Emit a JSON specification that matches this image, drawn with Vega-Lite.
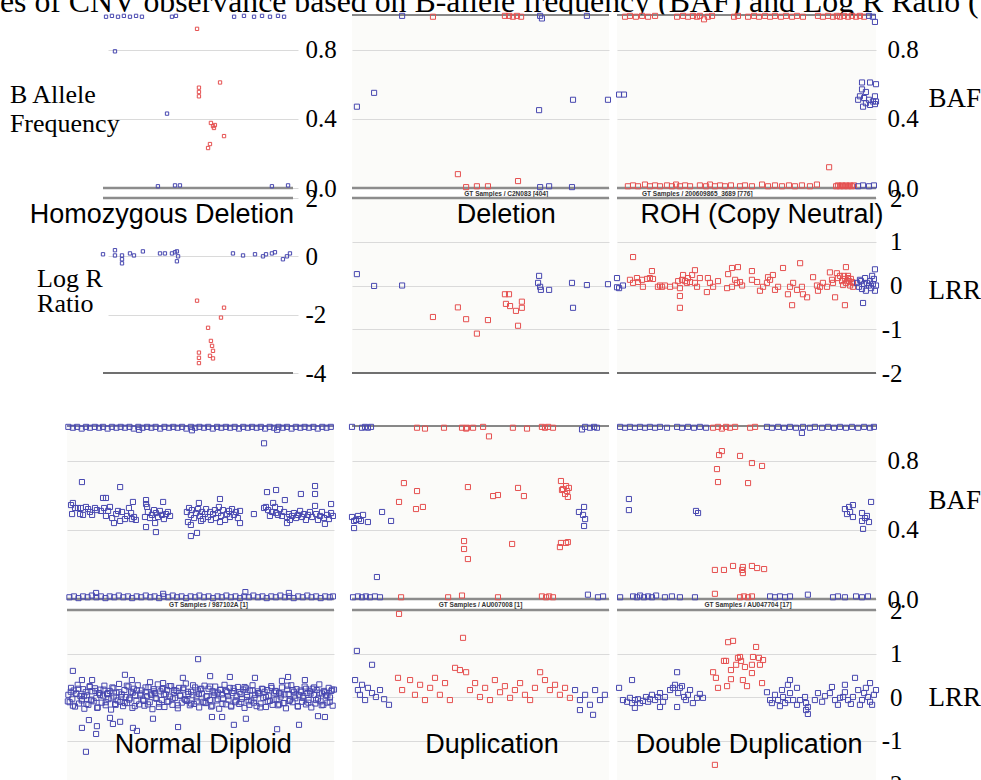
{
"$schema":"https://vega.github.io/schema/vega-lite/v6.json",
"padding":{"top":-13,"left":0,"right":0,"bottom":0},
"background":"white",
"config":{"view":{"stroke":null},"font":"Liberation Sans","axis":{"domain":false,"ticks":false,"gridColor":"#dadada","gridWidth":1,"labelFont":"Liberation Serif","labelFontSize":25,"labelColor":"#000","labelFlush":false,"labelOverlap":false,"labelBaseline":"middle","titleFont":"Liberation Serif","titleFontSize":27,"titleFontWeight":"normal","titleColor":"#000"}},
"datasets":{
"A_baf":[{"x":1.6,"y":0.99,"c":"b"},{"x":4.7,"y":0.995,"c":"b"},{"x":7.9,"y":0.99,"c":"b"},{"x":11,"y":0.995,"c":"b"},{"x":14.2,"y":0.99,"c":"b"},{"x":17.4,"y":0.995,"c":"b"},{"x":20.5,"y":0.99,"c":"b"},{"x":36.3,"y":0.99,"c":"b"},{"x":38.4,"y":0.995,"c":"b"},{"x":69,"y":0.99,"c":"b"},{"x":74.2,"y":0.995,"c":"b"},{"x":79.5,"y":0.99,"c":"b"},{"x":83.7,"y":0.995,"c":"b"},{"x":87.9,"y":0.99,"c":"b"},{"x":92.1,"y":0.995,"c":"b"},{"x":95.3,"y":0.99,"c":"b"},{"x":6.3,"y":0.79,"c":"b"},{"x":33.7,"y":0.43,"c":"b"},{"x":28.9,"y":0.01,"c":"b"},{"x":37.9,"y":0.015,"c":"b"},{"x":40.5,"y":0.015,"c":"b"},{"x":88.9,"y":0.01,"c":"b"},{"x":97.4,"y":0.015,"c":"b"},{"x":49.5,"y":0.92,"c":"r"},{"x":61.6,"y":0.61,"c":"r"},{"x":50.5,"y":0.58,"c":"r"},{"x":50.5,"y":0.555,"c":"r"},{"x":50.5,"y":0.53,"c":"r"},{"x":56.8,"y":0.376,"c":"r"},{"x":57.9,"y":0.358,"c":"r"},{"x":58.4,"y":0.347,"c":"r"},{"x":58.9,"y":0.364,"c":"r"},{"x":63.7,"y":0.3,"c":"r"},{"x":56.3,"y":0.254,"c":"r"},{"x":55.3,"y":0.231,"c":"r"}],
"A_lrr":[{"x":0,"y":0.07,"c":"b"},{"x":6.3,"y":0.21,"c":"b"},{"x":6.3,"y":0.03,"c":"b"},{"x":10,"y":0.03,"c":"b"},{"x":10,"y":-0.1,"c":"b"},{"x":10,"y":-0.24,"c":"b"},{"x":14.2,"y":0.1,"c":"b"},{"x":16.3,"y":0.03,"c":"b"},{"x":21,"y":0.17,"c":"b"},{"x":30,"y":0.1,"c":"b"},{"x":32.6,"y":0.1,"c":"b"},{"x":36.3,"y":0.1,"c":"b"},{"x":37.9,"y":0.14,"c":"b"},{"x":38.9,"y":0.17,"c":"b"},{"x":39.5,"y":0.0,"c":"b"},{"x":38.9,"y":-0.17,"c":"b"},{"x":68.4,"y":0.1,"c":"b"},{"x":73.7,"y":0.03,"c":"b"},{"x":80,"y":0.07,"c":"b"},{"x":84.2,"y":0.0,"c":"b"},{"x":85.8,"y":0.07,"c":"b"},{"x":88.9,"y":0.1,"c":"b"},{"x":90.5,"y":0.14,"c":"b"},{"x":94.7,"y":-0.1,"c":"b"},{"x":96.8,"y":0.0,"c":"b"},{"x":98.4,"y":0.1,"c":"b"},{"x":49.5,"y":-1.52,"c":"r"},{"x":63.7,"y":-1.76,"c":"r"},{"x":62.1,"y":-2.1,"c":"r"},{"x":55.3,"y":-2.45,"c":"r"},{"x":56.8,"y":-2.9,"c":"r"},{"x":57.4,"y":-3.07,"c":"r"},{"x":57.9,"y":-3.24,"c":"r"},{"x":56.3,"y":-3.41,"c":"r"},{"x":57.9,"y":-3.5,"c":"r"},{"x":50.5,"y":-3.3,"c":"r"},{"x":50.5,"y":-3.48,"c":"r"},{"x":50.5,"y":-3.66,"c":"r"}],
"B_baf":[{"x":19.5,"y":0.995,"c":"b"},{"x":73.2,"y":0.995,"c":"b"},{"x":73.9,"y":0.98,"c":"b"},{"x":91.4,"y":0.995,"c":"b"},{"x":1.9,"y":0.47,"c":"b"},{"x":8.6,"y":0.55,"c":"b"},{"x":72.8,"y":0.45,"c":"b"},{"x":86,"y":0.51,"c":"b"},{"x":99.6,"y":0.51,"c":"b"},{"x":73.2,"y":0.005,"c":"b"},{"x":76.7,"y":0.01,"c":"b"},{"x":85.6,"y":0.005,"c":"b"},{"x":31.5,"y":0.99,"c":"r"},{"x":59.5,"y":0.995,"c":"r"},{"x":61.1,"y":0.995,"c":"r"},{"x":62.6,"y":0.99,"c":"r"},{"x":64.2,"y":0.995,"c":"r"},{"x":65.8,"y":0.99,"c":"r"},{"x":41.2,"y":0.08,"c":"r"},{"x":44.4,"y":0.005,"c":"r"},{"x":48.6,"y":0.01,"c":"r"},{"x":52.9,"y":0.01,"c":"r"},{"x":64.6,"y":0.04,"c":"r"}],
"B_lrr":[{"x":1.9,"y":0.26,"c":"b"},{"x":8.6,"y":-0.01,"c":"b"},{"x":19.5,"y":0.0,"c":"b"},{"x":72.8,"y":0.22,"c":"b"},{"x":72.4,"y":0.06,"c":"b"},{"x":73.2,"y":-0.03,"c":"b"},{"x":73.5,"y":-0.1,"c":"b"},{"x":76.7,"y":-0.1,"c":"b"},{"x":85.6,"y":0.06,"c":"b"},{"x":86,"y":-0.51,"c":"b"},{"x":91.4,"y":0.01,"c":"b"},{"x":99.6,"y":0.03,"c":"b"},{"x":31.5,"y":-0.72,"c":"r"},{"x":41.2,"y":-0.5,"c":"r"},{"x":44.4,"y":-0.77,"c":"r"},{"x":48.6,"y":-1.1,"c":"r"},{"x":52.9,"y":-0.79,"c":"r"},{"x":59.5,"y":-0.2,"c":"r"},{"x":61.1,"y":-0.2,"c":"r"},{"x":59.9,"y":-0.42,"c":"r"},{"x":61.5,"y":-0.47,"c":"r"},{"x":63.8,"y":-0.58,"c":"r"},{"x":66.1,"y":-0.37,"c":"r"},{"x":66.1,"y":-0.51,"c":"r"},{"x":64.6,"y":-0.92,"c":"r"}],
"C_baf":[{"x":3.1,"y":0.99,"c":"r"},{"x":5,"y":0.995,"c":"r"},{"x":7.3,"y":0.99,"c":"r"},{"x":9.7,"y":0.995,"c":"r"},{"x":12,"y":0.99,"c":"r"},{"x":14.7,"y":0.995,"c":"r"},{"x":23.2,"y":0.99,"c":"r"},{"x":25.5,"y":0.995,"c":"r"},{"x":27.4,"y":0.99,"c":"r"},{"x":29.3,"y":0.995,"c":"r"},{"x":30.9,"y":0.99,"c":"r"},{"x":32,"y":0.995,"c":"r"},{"x":33.6,"y":0.975,"c":"r"},{"x":35.1,"y":0.99,"c":"r"},{"x":36.7,"y":0.995,"c":"r"},{"x":45.2,"y":0.99,"c":"r"},{"x":46.7,"y":0.995,"c":"r"},{"x":50.6,"y":0.99,"c":"r"},{"x":52.9,"y":0.995,"c":"r"},{"x":54.8,"y":0.99,"c":"r"},{"x":57.1,"y":0.995,"c":"r"},{"x":59.1,"y":0.99,"c":"r"},{"x":61,"y":0.995,"c":"r"},{"x":63.3,"y":0.99,"c":"r"},{"x":65.3,"y":0.995,"c":"r"},{"x":67.6,"y":0.99,"c":"r"},{"x":69.5,"y":0.995,"c":"r"},{"x":71.8,"y":0.99,"c":"r"},{"x":77.6,"y":0.995,"c":"r"},{"x":79.5,"y":0.99,"c":"r"},{"x":81.5,"y":0.995,"c":"r"},{"x":83.4,"y":0.99,"c":"r"},{"x":84.9,"y":0.995,"c":"r"},{"x":86.1,"y":0.99,"c":"r"},{"x":87.6,"y":0.995,"c":"r"},{"x":89.2,"y":0.99,"c":"r"},{"x":90.7,"y":0.995,"c":"r"},{"x":92.3,"y":0.99,"c":"r"},{"x":93.8,"y":0.995,"c":"r"},{"x":95.4,"y":0.99,"c":"r"},{"x":97.3,"y":0.995,"c":"b"},{"x":98.8,"y":0.99,"c":"b"},{"x":99.6,"y":0.96,"c":"b"},{"x":0.8,"y":0.54,"c":"b"},{"x":2.7,"y":0.54,"c":"b"},{"x":94.6,"y":0.61,"c":"b"},{"x":97.7,"y":0.61,"c":"b"},{"x":100,"y":0.6,"c":"b"},{"x":94.6,"y":0.57,"c":"b"},{"x":96.1,"y":0.555,"c":"b"},{"x":93.8,"y":0.53,"c":"b"},{"x":95.4,"y":0.52,"c":"b"},{"x":97.3,"y":0.51,"c":"b"},{"x":98.8,"y":0.5,"c":"b"},{"x":99.6,"y":0.53,"c":"b"},{"x":93.1,"y":0.51,"c":"b"},{"x":96.1,"y":0.49,"c":"b"},{"x":97.7,"y":0.48,"c":"b"},{"x":99.6,"y":0.485,"c":"b"},{"x":100,"y":0.5,"c":"b"},{"x":95,"y":0.47,"c":"b"},{"x":81.9,"y":0.12,"c":"r"},{"x":4.2,"y":0.01,"c":"r"},{"x":6.2,"y":0.015,"c":"r"},{"x":8.1,"y":0.01,"c":"r"},{"x":10.8,"y":0.02,"c":"r"},{"x":12.7,"y":0.01,"c":"r"},{"x":14.7,"y":0.015,"c":"r"},{"x":16.6,"y":0.01,"c":"r"},{"x":19.3,"y":0.015,"c":"r"},{"x":21.2,"y":0.01,"c":"r"},{"x":22.8,"y":0.02,"c":"r"},{"x":24.3,"y":0.01,"c":"r"},{"x":26.3,"y":0.015,"c":"r"},{"x":28.2,"y":0.01,"c":"r"},{"x":32,"y":0.015,"c":"r"},{"x":34.4,"y":0.01,"c":"r"},{"x":35.9,"y":0.02,"c":"r"},{"x":37.8,"y":0.01,"c":"r"},{"x":39.8,"y":0.015,"c":"r"},{"x":41.7,"y":0.01,"c":"r"},{"x":44,"y":0.015,"c":"r"},{"x":47.5,"y":0.01,"c":"r"},{"x":49.4,"y":0.015,"c":"r"},{"x":52.1,"y":0.01,"c":"r"},{"x":56,"y":0.02,"c":"r"},{"x":58.3,"y":0.01,"c":"r"},{"x":61,"y":0.015,"c":"r"},{"x":63.7,"y":0.01,"c":"r"},{"x":66.4,"y":0.015,"c":"r"},{"x":68.7,"y":0.01,"c":"r"},{"x":71.4,"y":0.015,"c":"r"},{"x":74.5,"y":0.01,"c":"r"},{"x":77.2,"y":0.02,"c":"r"},{"x":84.6,"y":0.01,"c":"r"},{"x":85.3,"y":0.015,"c":"r"},{"x":86.1,"y":0.01,"c":"r"},{"x":86.9,"y":0.015,"c":"r"},{"x":87.6,"y":0.01,"c":"r"},{"x":88.4,"y":0.015,"c":"r"},{"x":89.2,"y":0.01,"c":"r"},{"x":90,"y":0.015,"c":"r"},{"x":90.7,"y":0.01,"c":"r"},{"x":91.5,"y":0.015,"c":"r"},{"x":93.1,"y":0.01,"c":"b"},{"x":95,"y":0.015,"c":"b"},{"x":97.3,"y":0.01,"c":"b"},{"x":99.2,"y":0.015,"c":"b"}],
"C_lrr":[{"x":0,"y":-0.04,"c":"b"},{"x":0.8,"y":-0.06,"c":"b"},{"x":2.3,"y":0.0,"c":"b"},{"x":0,"y":0.17,"c":"b"},{"x":6.2,"y":0.65,"c":"r"},{"x":7.7,"y":0.17,"c":"r"},{"x":5,"y":0.13,"c":"r"},{"x":6.2,"y":0.06,"c":"r"},{"x":8.1,"y":0.08,"c":"r"},{"x":9.7,"y":0.13,"c":"r"},{"x":10,"y":-0.03,"c":"r"},{"x":11.6,"y":0.15,"c":"r"},{"x":12.7,"y":0.17,"c":"r"},{"x":13.5,"y":0.33,"c":"r"},{"x":13.9,"y":0.15,"c":"r"},{"x":15.8,"y":-0.03,"c":"r"},{"x":16.6,"y":0.0,"c":"r"},{"x":17.4,"y":-0.03,"c":"r"},{"x":18.5,"y":0.0,"c":"r"},{"x":20.5,"y":-0.03,"c":"r"},{"x":22.4,"y":0.0,"c":"r"},{"x":23.6,"y":0.1,"c":"r"},{"x":24.3,"y":-0.06,"c":"r"},{"x":24.3,"y":-0.24,"c":"r"},{"x":24.3,"y":-0.51,"c":"r"},{"x":25.1,"y":0.13,"c":"r"},{"x":25.5,"y":0.24,"c":"r"},{"x":26.3,"y":0.1,"c":"r"},{"x":27,"y":0.06,"c":"r"},{"x":27.4,"y":0.17,"c":"r"},{"x":28.2,"y":0.08,"c":"r"},{"x":29,"y":0.24,"c":"r"},{"x":30.1,"y":0.35,"c":"r"},{"x":30.1,"y":0.06,"c":"r"},{"x":30.9,"y":-0.03,"c":"r"},{"x":32,"y":0.17,"c":"r"},{"x":34.7,"y":-0.15,"c":"r"},{"x":35.1,"y":0.17,"c":"r"},{"x":35.9,"y":0.06,"c":"r"},{"x":37.1,"y":-0.03,"c":"r"},{"x":39,"y":0.1,"c":"r"},{"x":42.5,"y":-0.06,"c":"r"},{"x":42.9,"y":0.26,"c":"r"},{"x":44.4,"y":0.4,"c":"r"},{"x":44.4,"y":-0.03,"c":"r"},{"x":45.6,"y":0.13,"c":"r"},{"x":46.3,"y":0.06,"c":"r"},{"x":46.7,"y":0.42,"c":"r"},{"x":47.5,"y":0.08,"c":"r"},{"x":48.3,"y":0.0,"c":"r"},{"x":52.1,"y":0.33,"c":"r"},{"x":52.1,"y":0.13,"c":"r"},{"x":54.1,"y":0.08,"c":"r"},{"x":55.2,"y":-0.12,"c":"r"},{"x":56.4,"y":-0.03,"c":"r"},{"x":57.9,"y":0.06,"c":"r"},{"x":58.3,"y":0.19,"c":"r"},{"x":59.1,"y":0.13,"c":"r"},{"x":60.2,"y":0.24,"c":"r"},{"x":61,"y":-0.1,"c":"r"},{"x":62.2,"y":-0.03,"c":"r"},{"x":64.1,"y":0.4,"c":"r"},{"x":66,"y":-0.2,"c":"r"},{"x":66.8,"y":-0.03,"c":"r"},{"x":67.6,"y":-0.45,"c":"r"},{"x":68,"y":0.06,"c":"r"},{"x":69.5,"y":-0.1,"c":"r"},{"x":70.7,"y":0.51,"c":"r"},{"x":71.4,"y":-0.03,"c":"r"},{"x":71.8,"y":-0.2,"c":"r"},{"x":73.4,"y":-0.27,"c":"r"},{"x":75.7,"y":0.19,"c":"r"},{"x":77.2,"y":0.0,"c":"r"},{"x":77.6,"y":-0.12,"c":"r"},{"x":78.4,"y":-0.03,"c":"r"},{"x":79.5,"y":0.06,"c":"r"},{"x":81.1,"y":-0.03,"c":"r"},{"x":82.2,"y":0.3,"c":"r"},{"x":83,"y":0.13,"c":"r"},{"x":83.4,"y":0.06,"c":"r"},{"x":84.2,"y":-0.27,"c":"r"},{"x":84.9,"y":0.28,"c":"r"},{"x":85.3,"y":0.17,"c":"r"},{"x":86.1,"y":0.22,"c":"r"},{"x":86.9,"y":0.1,"c":"r"},{"x":87.3,"y":0.01,"c":"r"},{"x":88,"y":0.15,"c":"r"},{"x":88.4,"y":0.06,"c":"r"},{"x":89.2,"y":0.22,"c":"r"},{"x":89.6,"y":0.1,"c":"r"},{"x":90,"y":0.0,"c":"r"},{"x":90.3,"y":0.15,"c":"r"},{"x":91.1,"y":0.06,"c":"r"},{"x":87.6,"y":0.22,"c":"r"},{"x":88.4,"y":0.42,"c":"r"},{"x":88,"y":-0.45,"c":"r"},{"x":89.2,"y":0.17,"c":"r"},{"x":90.7,"y":0.08,"c":"r"},{"x":91.1,"y":-0.03,"c":"r"},{"x":95,"y":-0.4,"c":"b"},{"x":99.6,"y":0.37,"c":"b"},{"x":92.7,"y":0.06,"c":"b"},{"x":93.4,"y":-0.03,"c":"b"},{"x":94.2,"y":0.1,"c":"b"},{"x":94.6,"y":-0.08,"c":"b"},{"x":95.4,"y":0.03,"c":"b"},{"x":95.8,"y":0.17,"c":"b"},{"x":96.1,"y":-0.12,"c":"b"},{"x":97.3,"y":0.0,"c":"b"},{"x":97.7,"y":0.1,"c":"b"},{"x":98.1,"y":-0.06,"c":"b"},{"x":98.8,"y":0.03,"c":"b"},{"x":99.2,"y":0.15,"c":"b"},{"x":99.6,"y":-0.12,"c":"b"},{"x":100,"y":0.0,"c":"b"},{"x":98.5,"y":0.22,"c":"b"},{"x":93.8,"y":0.13,"c":"b"},{"x":96.5,"y":0.06,"c":"b"}],
"D_baf":[{"x":0.5,"y":0.995,"c":"b"},{"x":2.2,"y":0.99,"c":"b"},{"x":3.8,"y":0.995,"c":"b"},{"x":5.5,"y":0.985,"c":"b"},{"x":7.1,"y":0.995,"c":"b"},{"x":8.6,"y":0.99,"c":"b"},{"x":10.4,"y":0.995,"c":"b"},{"x":12,"y":0.99,"c":"b"},{"x":13.5,"y":0.995,"c":"b"},{"x":15.2,"y":0.985,"c":"b"},{"x":16.8,"y":0.995,"c":"b"},{"x":18.5,"y":0.99,"c":"b"},{"x":20.1,"y":0.995,"c":"b"},{"x":21.7,"y":0.99,"c":"b"},{"x":23.4,"y":0.995,"c":"b"},{"x":25,"y":0.985,"c":"b"},{"x":26.7,"y":0.995,"c":"b"},{"x":28.3,"y":0.99,"c":"b"},{"x":30,"y":0.995,"c":"b"},{"x":31.6,"y":0.99,"c":"b"},{"x":33.2,"y":0.995,"c":"b"},{"x":34.9,"y":0.985,"c":"b"},{"x":36.5,"y":0.995,"c":"b"},{"x":38.2,"y":0.99,"c":"b"},{"x":39.8,"y":0.995,"c":"b"},{"x":41.4,"y":0.99,"c":"b"},{"x":43.1,"y":0.995,"c":"b"},{"x":44.7,"y":0.985,"c":"b"},{"x":46.4,"y":0.995,"c":"b"},{"x":48,"y":0.99,"c":"b"},{"x":49.6,"y":0.995,"c":"b"},{"x":51.3,"y":0.99,"c":"b"},{"x":52.9,"y":0.995,"c":"b"},{"x":54.6,"y":0.985,"c":"b"},{"x":56.2,"y":0.995,"c":"b"},{"x":57.8,"y":0.99,"c":"b"},{"x":59.5,"y":0.995,"c":"b"},{"x":61.1,"y":0.99,"c":"b"},{"x":62.8,"y":0.995,"c":"b"},{"x":64.4,"y":0.985,"c":"b"},{"x":66,"y":0.995,"c":"b"},{"x":67.7,"y":0.99,"c":"b"},{"x":69.3,"y":0.995,"c":"b"},{"x":71,"y":0.99,"c":"b"},{"x":72.6,"y":0.995,"c":"b"},{"x":74.2,"y":0.985,"c":"b"},{"x":75.9,"y":0.995,"c":"b"},{"x":77.5,"y":0.99,"c":"b"},{"x":79.2,"y":0.995,"c":"b"},{"x":80.8,"y":0.99,"c":"b"},{"x":82.4,"y":0.995,"c":"b"},{"x":84.1,"y":0.985,"c":"b"},{"x":85.7,"y":0.995,"c":"b"},{"x":87.4,"y":0.99,"c":"b"},{"x":89,"y":0.995,"c":"b"},{"x":90.6,"y":0.99,"c":"b"},{"x":92.3,"y":0.995,"c":"b"},{"x":93.9,"y":0.985,"c":"b"},{"x":95.6,"y":0.995,"c":"b"},{"x":97.2,"y":0.99,"c":"b"},{"x":98.8,"y":0.995,"c":"b"},{"x":27,"y":0.978,"c":"b"},{"x":46.8,"y":0.975,"c":"b"},{"x":78.7,"y":0.978,"c":"b"},{"x":73.8,"y":0.9,"c":"b"},
{"x":1.5,"y":0.543,"c":"b"},{"x":2.2,"y":0.555,"c":"b"},{"x":3,"y":0.526,"c":"b"},{"x":1.9,"y":0.491,"c":"b"},{"x":4.1,"y":0.526,"c":"b"},{"x":4.9,"y":0.491,"c":"b"},{"x":5.2,"y":0.526,"c":"b"},{"x":7.1,"y":0.532,"c":"b"},{"x":7.9,"y":0.52,"c":"b"},{"x":8.6,"y":0.503,"c":"b"},{"x":9.4,"y":0.486,"c":"b"},{"x":10.5,"y":0.526,"c":"b"},{"x":11.2,"y":0.514,"c":"b"},{"x":6,"y":0.486,"c":"b"},{"x":12.7,"y":0.509,"c":"b"},{"x":13.9,"y":0.526,"c":"b"},{"x":14.6,"y":0.48,"c":"b"},{"x":15.4,"y":0.509,"c":"b"},{"x":16.1,"y":0.532,"c":"b"},{"x":16.9,"y":0.468,"c":"b"},{"x":17.6,"y":0.439,"c":"b"},{"x":18.4,"y":0.491,"c":"b"},{"x":19.1,"y":0.509,"c":"b"},{"x":19.9,"y":0.451,"c":"b"},{"x":20.6,"y":0.503,"c":"b"},{"x":21.7,"y":0.462,"c":"b"},{"x":22.5,"y":0.48,"c":"b"},{"x":23.2,"y":0.526,"c":"b"},{"x":24,"y":0.497,"c":"b"},{"x":24.3,"y":0.462,"c":"b"},{"x":25.1,"y":0.474,"c":"b"},{"x":25.8,"y":0.457,"c":"b"},{"x":24.7,"y":0.561,"c":"b"},{"x":14.6,"y":0.584,"c":"b"},{"x":13.5,"y":0.584,"c":"b"},{"x":29.6,"y":0.572,"c":"b"},{"x":29.6,"y":0.549,"c":"b"},{"x":30,"y":0.532,"c":"b"},{"x":29.2,"y":0.474,"c":"b"},{"x":30.3,"y":0.503,"c":"b"},{"x":31.1,"y":0.468,"c":"b"},{"x":31.8,"y":0.486,"c":"b"},{"x":32.6,"y":0.514,"c":"b"},{"x":33.3,"y":0.497,"c":"b"},{"x":34.1,"y":0.474,"c":"b"},{"x":34.8,"y":0.509,"c":"b"},{"x":35.6,"y":0.486,"c":"b"},{"x":36,"y":0.561,"c":"b"},{"x":36.3,"y":0.462,"c":"b"},{"x":37.1,"y":0.491,"c":"b"},{"x":37.8,"y":0.503,"c":"b"},{"x":38.6,"y":0.48,"c":"b"},{"x":29.6,"y":0.416,"c":"b"},{"x":33.3,"y":0.387,"c":"b"},{"x":33,"y":0.439,"c":"b"},{"x":44.9,"y":0.503,"c":"b"},{"x":45.7,"y":0.526,"c":"b"},{"x":46.4,"y":0.486,"c":"b"},{"x":46.8,"y":0.514,"c":"b"},{"x":47.6,"y":0.468,"c":"b"},{"x":48.3,"y":0.497,"c":"b"},{"x":49.1,"y":0.52,"c":"b"},{"x":49.4,"y":0.555,"c":"b"},{"x":49.8,"y":0.48,"c":"b"},{"x":50.6,"y":0.503,"c":"b"},{"x":50.9,"y":0.462,"c":"b"},{"x":51.7,"y":0.491,"c":"b"},{"x":52.1,"y":0.52,"c":"b"},{"x":52.8,"y":0.474,"c":"b"},{"x":53.6,"y":0.503,"c":"b"},{"x":53.9,"y":0.457,"c":"b"},{"x":54.7,"y":0.491,"c":"b"},{"x":55.4,"y":0.514,"c":"b"},{"x":55.8,"y":0.468,"c":"b"},{"x":56.6,"y":0.497,"c":"b"},{"x":57.3,"y":0.578,"c":"b"},{"x":56.9,"y":0.532,"c":"b"},{"x":57.7,"y":0.48,"c":"b"},{"x":58.4,"y":0.514,"c":"b"},{"x":59.2,"y":0.457,"c":"b"},{"x":59.9,"y":0.491,"c":"b"},{"x":60.7,"y":0.509,"c":"b"},{"x":61,"y":0.474,"c":"b"},{"x":61.8,"y":0.52,"c":"b"},{"x":62.5,"y":0.486,"c":"b"},{"x":63.3,"y":0.503,"c":"b"},{"x":64,"y":0.468,"c":"b"},{"x":64.8,"y":0.509,"c":"b"},{"x":46.4,"y":0.428,"c":"b"},{"x":46.4,"y":0.364,"c":"b"},{"x":48.7,"y":0.382,"c":"b"},{"x":50.2,"y":0.451,"c":"b"},{"x":57.3,"y":0.445,"c":"b"},{"x":64.8,"y":0.439,"c":"b"},{"x":45.3,"y":0.445,"c":"b"},{"x":70,"y":0.491,"c":"b"},{"x":73.8,"y":0.526,"c":"b"},{"x":74.5,"y":0.532,"c":"b"},{"x":75.3,"y":0.514,"c":"b"},{"x":76,"y":0.48,"c":"b"},{"x":76.8,"y":0.503,"c":"b"},{"x":77.2,"y":0.555,"c":"b"},{"x":77.9,"y":0.532,"c":"b"},{"x":78.3,"y":0.497,"c":"b"},{"x":79,"y":0.486,"c":"b"},{"x":79.8,"y":0.52,"c":"b"},{"x":80.5,"y":0.48,"c":"b"},{"x":81.3,"y":0.503,"c":"b"},{"x":81.6,"y":0.572,"c":"b"},{"x":82.4,"y":0.474,"c":"b"},{"x":83.1,"y":0.491,"c":"b"},{"x":83.5,"y":0.457,"c":"b"},{"x":84.3,"y":0.48,"c":"b"},{"x":85,"y":0.497,"c":"b"},{"x":85.8,"y":0.468,"c":"b"},{"x":86.5,"y":0.486,"c":"b"},{"x":87.3,"y":0.509,"c":"b"},{"x":88,"y":0.474,"c":"b"},{"x":88.8,"y":0.491,"c":"b"},{"x":89.5,"y":0.457,"c":"b"},{"x":90.3,"y":0.486,"c":"b"},{"x":91,"y":0.503,"c":"b"},{"x":91.8,"y":0.474,"c":"b"},{"x":92.9,"y":0.538,"c":"b"},{"x":93.3,"y":0.491,"c":"b"},{"x":94,"y":0.457,"c":"b"},{"x":94.8,"y":0.48,"c":"b"},{"x":95.5,"y":0.503,"c":"b"},{"x":96.3,"y":0.468,"c":"b"},{"x":96.6,"y":0.434,"c":"b"},{"x":97.4,"y":0.486,"c":"b"},{"x":98.1,"y":0.462,"c":"b"},{"x":98.9,"y":0.497,"c":"b"},{"x":99.6,"y":0.48,"c":"b"},{"x":82.4,"y":0.439,"c":"b"},{"x":74.9,"y":0.618,"c":"b"},{"x":78.3,"y":0.63,"c":"b"},{"x":87.6,"y":0.607,"c":"b"},{"x":92.9,"y":0.653,"c":"b"},{"x":92.9,"y":0.607,"c":"b"},{"x":98.9,"y":0.549,"c":"b"},{"x":5.6,"y":0.676,"c":"b"},{"x":19.9,"y":0.647,"c":"b"},
{"x":0.9,"y":0.01,"c":"b"},{"x":2.6,"y":0.015,"c":"b"},{"x":4.3,"y":0.005,"c":"b"},{"x":6,"y":0.015,"c":"b"},{"x":7.7,"y":0.01,"c":"b"},{"x":9.3,"y":0.02,"c":"b"},{"x":11,"y":0.01,"c":"b"},{"x":12.7,"y":0.015,"c":"b"},{"x":14.4,"y":0.005,"c":"b"},{"x":16,"y":0.015,"c":"b"},{"x":17.7,"y":0.01,"c":"b"},{"x":19.4,"y":0.02,"c":"b"},{"x":21.1,"y":0.01,"c":"b"},{"x":22.8,"y":0.015,"c":"b"},{"x":24.4,"y":0.005,"c":"b"},{"x":26.1,"y":0.015,"c":"b"},{"x":27.8,"y":0.01,"c":"b"},{"x":29.5,"y":0.02,"c":"b"},{"x":31.2,"y":0.01,"c":"b"},{"x":32.8,"y":0.015,"c":"b"},{"x":34.5,"y":0.005,"c":"b"},{"x":36.2,"y":0.015,"c":"b"},{"x":37.9,"y":0.01,"c":"b"},{"x":39.6,"y":0.02,"c":"b"},{"x":41.2,"y":0.01,"c":"b"},{"x":42.9,"y":0.015,"c":"b"},{"x":44.6,"y":0.005,"c":"b"},{"x":46.3,"y":0.015,"c":"b"},{"x":48,"y":0.01,"c":"b"},{"x":49.6,"y":0.02,"c":"b"},{"x":51.3,"y":0.01,"c":"b"},{"x":53,"y":0.015,"c":"b"},{"x":54.7,"y":0.005,"c":"b"},{"x":56.4,"y":0.015,"c":"b"},{"x":58,"y":0.01,"c":"b"},{"x":59.7,"y":0.02,"c":"b"},{"x":61.4,"y":0.01,"c":"b"},{"x":63.1,"y":0.015,"c":"b"},{"x":64.8,"y":0.005,"c":"b"},{"x":66.4,"y":0.015,"c":"b"},{"x":68.1,"y":0.01,"c":"b"},{"x":69.8,"y":0.02,"c":"b"},{"x":71.5,"y":0.01,"c":"b"},{"x":73.2,"y":0.015,"c":"b"},{"x":74.8,"y":0.005,"c":"b"},{"x":76.5,"y":0.015,"c":"b"},{"x":78.2,"y":0.01,"c":"b"},{"x":79.9,"y":0.02,"c":"b"},{"x":81.6,"y":0.01,"c":"b"},{"x":83.2,"y":0.015,"c":"b"},{"x":84.9,"y":0.005,"c":"b"},{"x":86.6,"y":0.015,"c":"b"},{"x":88.3,"y":0.01,"c":"b"},{"x":90,"y":0.02,"c":"b"},{"x":91.6,"y":0.01,"c":"b"},{"x":93.3,"y":0.015,"c":"b"},{"x":95,"y":0.005,"c":"b"},{"x":96.7,"y":0.015,"c":"b"},{"x":98.4,"y":0.01,"c":"b"},{"x":99.6,"y":0.015,"c":"b"},{"x":10.9,"y":0.035,"c":"b"},{"x":36,"y":0.03,"c":"b"},{"x":66.8,"y":0.04,"c":"b"},{"x":83.1,"y":0.035,"c":"b"}],
"D_lrr":[{"x":49.1,"y":0.87,"c":"b"},{"x":2.2,"y":0.6,"c":"b"},{"x":5.6,"y":0.39,"c":"b"},{"x":9.4,"y":0.39,"c":"b"},{"x":8.2,"y":-0.53,"c":"b"},{"x":5.6,"y":-0.71,"c":"b"},{"x":11.2,"y":-0.67,"c":"b"},{"x":10.9,"y":-0.85,"c":"b"},{"x":7.1,"y":-1.26,"c":"b"},{"x":16.1,"y":-0.48,"c":"b"},{"x":17.2,"y":-0.62,"c":"b"},{"x":19.9,"y":-0.57,"c":"b"},{"x":24.7,"y":-0.71,"c":"b"},{"x":26.2,"y":-0.78,"c":"b"},{"x":32.2,"y":-0.5,"c":"b"},{"x":41.6,"y":-0.69,"c":"b"},{"x":54.3,"y":-0.46,"c":"b"},{"x":58.1,"y":-0.46,"c":"b"},{"x":67,"y":-0.5,"c":"b"},{"x":62.5,"y":-0.64,"c":"b"},{"x":78.7,"y":-0.74,"c":"b"},{"x":86.9,"y":-0.64,"c":"b"},{"x":94,"y":-0.44,"c":"b"},{"x":96.6,"y":-0.46,"c":"b"},{"x":21.7,"y":0.51,"c":"b"},{"x":43.4,"y":0.44,"c":"b"},{"x":53.6,"y":0.48,"c":"b"},{"x":61,"y":0.46,"c":"b"},{"x":70.4,"y":0.44,"c":"b"},{"x":80.5,"y":0.37,"c":"b"},{"x":82.8,"y":0.46,"c":"b"},{"x":89.1,"y":0.39,"c":"b"},{"x":24.3,"y":0.39,"c":"b"},{"x":31.1,"y":0.34,"c":"b"},{"x":36,"y":0.32,"c":"b"},
{"x":0.5,"y":0.05,"c":"b"},{"x":1,"y":-0.12,"c":"b"},{"x":1.5,"y":0.21,"c":"b"},{"x":2,"y":-0.04,"c":"b"},{"x":2.5,"y":0.15,"c":"b"},{"x":3,"y":-0.22,"c":"b"},{"x":3.5,"y":0.08,"c":"b"},{"x":4,"y":0.28,"c":"b"},{"x":4.5,"y":-0.15,"c":"b"},{"x":5,"y":0.02,"c":"b"},{"x":5.5,"y":-0.08,"c":"b"},{"x":6,"y":0.18,"c":"b"},{"x":6.5,"y":-0.27,"c":"b"},{"x":7,"y":0.11,"c":"b"},{"x":7.5,"y":0.04,"c":"b"},{"x":8,"y":-0.18,"c":"b"},{"x":8.5,"y":0.25,"c":"b"},{"x":9,"y":-0.06,"c":"b"},{"x":9.5,"y":0.13,"c":"b"},{"x":10,"y":-0.1,"c":"b"},{"x":10.5,"y":0.2,"c":"b"},{"x":11,"y":-0.02,"c":"b"},{"x":11.5,"y":-0.24,"c":"b"},{"x":12,"y":0.09,"c":"b"},{"x":12.5,"y":0.17,"c":"b"},{"x":13,"y":-0.13,"c":"b"},{"x":13.5,"y":0.03,"c":"b"},{"x":14,"y":0.26,"c":"b"},{"x":14.5,"y":-0.19,"c":"b"},{"x":15,"y":0.07,"c":"b"},{"x":15.5,"y":-0.05,"c":"b"},{"x":16,"y":0.14,"c":"b"},{"x":16.5,"y":-0.29,"c":"b"},{"x":17,"y":0.22,"c":"b"},{"x":17.5,"y":0.01,"c":"b"},{"x":18,"y":-0.16,"c":"b"},{"x":18.5,"y":0.1,"c":"b"},{"x":19,"y":-0.08,"c":"b"},{"x":19.5,"y":0.3,"c":"b"},{"x":20,"y":-0.11,"c":"b"},{"x":20.5,"y":0.06,"c":"b"},{"x":21,"y":-0.21,"c":"b"},{"x":21.5,"y":0.16,"c":"b"},{"x":22,"y":0.0,"c":"b"},{"x":22.5,"y":-0.14,"c":"b"},{"x":23,"y":0.24,"c":"b"},{"x":23.5,"y":-0.03,"c":"b"},{"x":24,"y":0.12,"c":"b"},{"x":24.5,"y":-0.25,"c":"b"},{"x":25,"y":0.19,"c":"b"},{"x":25.5,"y":0.04,"c":"b"},{"x":26,"y":-0.09,"c":"b"},{"x":26.5,"y":0.27,"c":"b"},{"x":27,"y":-0.17,"c":"b"},{"x":27.5,"y":0.08,"c":"b"},{"x":28,"y":0.15,"c":"b"},{"x":28.5,"y":-0.06,"c":"b"},{"x":29,"y":-0.2,"c":"b"},{"x":29.5,"y":0.11,"c":"b"},{"x":30,"y":0.02,"c":"b"},{"x":30.5,"y":0.23,"c":"b"},{"x":31,"y":-0.12,"c":"b"},{"x":31.5,"y":0.05,"c":"b"},{"x":32,"y":-0.28,"c":"b"},{"x":32.5,"y":0.18,"c":"b"},{"x":33,"y":0.09,"c":"b"},{"x":33.5,"y":-0.04,"c":"b"},{"x":34,"y":0.29,"c":"b"},{"x":34.5,"y":-0.15,"c":"b"},{"x":35,"y":0.13,"c":"b"},{"x":35.5,"y":-0.07,"c":"b"},{"x":36,"y":0.2,"c":"b"},{"x":36.5,"y":-0.23,"c":"b"},{"x":37,"y":0.06,"c":"b"},{"x":37.5,"y":0.16,"c":"b"},{"x":38,"y":-0.1,"c":"b"},{"x":38.5,"y":0.01,"c":"b"},{"x":39,"y":0.25,"c":"b"},{"x":39.5,"y":-0.18,"c":"b"},{"x":40,"y":0.1,"c":"b"},{"x":40.5,"y":-0.02,"c":"b"},{"x":41,"y":0.14,"c":"b"},{"x":41.5,"y":-0.26,"c":"b"},{"x":42,"y":0.21,"c":"b"},{"x":42.5,"y":0.03,"c":"b"},{"x":43,"y":-0.13,"c":"b"},{"x":43.5,"y":0.17,"c":"b"},{"x":44,"y":-0.05,"c":"b"},{"x":44.5,"y":0.31,"c":"b"},{"x":45,"y":-0.09,"c":"b"},{"x":45.5,"y":0.07,"c":"b"},{"x":46,"y":-0.19,"c":"b"},{"x":46.5,"y":0.12,"c":"b"},{"x":47,"y":0.04,"c":"b"},{"x":47.5,"y":-0.16,"c":"b"},{"x":48,"y":0.22,"c":"b"},{"x":48.5,"y":-0.01,"c":"b"},{"x":49,"y":0.15,"c":"b"},{"x":49.5,"y":-0.24,"c":"b"},{"x":50,"y":0.18,"c":"b"},{"x":50.5,"y":0.08,"c":"b"},{"x":51,"y":-0.11,"c":"b"},{"x":51.5,"y":0.26,"c":"b"},{"x":52,"y":-0.14,"c":"b"},{"x":52.5,"y":0.02,"c":"b"},{"x":53,"y":0.19,"c":"b"},{"x":53.5,"y":-0.07,"c":"b"},{"x":54,"y":-0.22,"c":"b"},{"x":54.5,"y":0.13,"c":"b"},{"x":55,"y":0.05,"c":"b"},{"x":55.5,"y":0.24,"c":"b"},{"x":56,"y":-0.08,"c":"b"},{"x":56.5,"y":0.1,"c":"b"},{"x":57,"y":-0.27,"c":"b"},{"x":57.5,"y":0.16,"c":"b"},{"x":58,"y":0.06,"c":"b"},{"x":58.5,"y":-0.03,"c":"b"},{"x":59,"y":0.28,"c":"b"},{"x":59.5,"y":-0.17,"c":"b"},{"x":60,"y":0.11,"c":"b"},{"x":60.5,"y":-0.06,"c":"b"},{"x":61,"y":0.21,"c":"b"},{"x":61.5,"y":-0.2,"c":"b"},{"x":62,"y":0.09,"c":"b"},{"x":62.5,"y":0.14,"c":"b"},{"x":63,"y":-0.12,"c":"b"},{"x":63.5,"y":0.03,"c":"b"},{"x":64,"y":0.23,"c":"b"},{"x":64.5,"y":-0.16,"c":"b"},{"x":65,"y":0.07,"c":"b"},{"x":65.5,"y":-0.04,"c":"b"},{"x":66,"y":0.17,"c":"b"},{"x":66.5,"y":-0.25,"c":"b"},{"x":67,"y":0.2,"c":"b"},{"x":67.5,"y":0.0,"c":"b"},{"x":68,"y":-0.1,"c":"b"},{"x":68.5,"y":0.15,"c":"b"},{"x":69,"y":-0.08,"c":"b"},{"x":69.5,"y":0.27,"c":"b"},{"x":70,"y":-0.13,"c":"b"},{"x":70.5,"y":0.05,"c":"b"},{"x":71,"y":-0.21,"c":"b"},{"x":71.5,"y":0.13,"c":"b"},{"x":72,"y":0.08,"c":"b"},{"x":72.5,"y":-0.15,"c":"b"},{"x":73,"y":0.19,"c":"b"},{"x":73.5,"y":-0.02,"c":"b"},{"x":74,"y":0.12,"c":"b"},{"x":74.5,"y":-0.23,"c":"b"},{"x":75,"y":0.16,"c":"b"},{"x":75.5,"y":0.03,"c":"b"},{"x":76,"y":-0.09,"c":"b"},{"x":76.5,"y":0.25,"c":"b"},{"x":77,"y":-0.18,"c":"b"},{"x":77.5,"y":0.1,"c":"b"},{"x":78,"y":0.14,"c":"b"},{"x":78.5,"y":-0.05,"c":"b"},{"x":79,"y":-0.19,"c":"b"},{"x":79.5,"y":0.09,"c":"b"},{"x":80,"y":0.01,"c":"b"},{"x":80.5,"y":0.22,"c":"b"},{"x":81,"y":-0.14,"c":"b"},{"x":81.5,"y":0.06,"c":"b"},{"x":82,"y":-0.26,"c":"b"},{"x":82.5,"y":0.17,"c":"b"},{"x":83,"y":0.07,"c":"b"},{"x":83.5,"y":-0.06,"c":"b"},{"x":84,"y":0.27,"c":"b"},{"x":84.5,"y":-0.12,"c":"b"},{"x":85,"y":0.12,"c":"b"},{"x":85.5,"y":-0.03,"c":"b"},{"x":86,"y":0.18,"c":"b"},{"x":86.5,"y":-0.22,"c":"b"},{"x":87,"y":0.04,"c":"b"},{"x":87.5,"y":0.15,"c":"b"},{"x":88,"y":-0.11,"c":"b"},{"x":88.5,"y":0.02,"c":"b"},{"x":89,"y":0.24,"c":"b"},{"x":89.5,"y":-0.17,"c":"b"},{"x":90,"y":0.09,"c":"b"},{"x":90.5,"y":-0.07,"c":"b"},{"x":91,"y":0.13,"c":"b"},{"x":91.5,"y":-0.24,"c":"b"},{"x":92,"y":0.19,"c":"b"},{"x":92.5,"y":0.05,"c":"b"},{"x":93,"y":-0.15,"c":"b"},{"x":93.5,"y":0.16,"c":"b"},{"x":94,"y":-0.04,"c":"b"},{"x":94.5,"y":0.29,"c":"b"},{"x":95,"y":-0.1,"c":"b"},{"x":95.5,"y":0.08,"c":"b"},{"x":96,"y":-0.18,"c":"b"},{"x":96.5,"y":0.11,"c":"b"},{"x":97,"y":0.03,"c":"b"},{"x":97.5,"y":-0.13,"c":"b"},{"x":98,"y":0.21,"c":"b"},{"x":98.5,"y":-0.01,"c":"b"},{"x":99,"y":0.14,"c":"b"},{"x":99.5,"y":-0.2,"c":"b"},{"x":100,"y":0.17,"c":"b"},
{"x":0.3,"y":-0.1,"c":"b"},{"x":1.4,"y":0.12,"c":"b"},{"x":2.2,"y":-0.2,"c":"b"},{"x":3.5,"y":0.07,"c":"b"},{"x":4.3,"y":0.19,"c":"b"},{"x":5.6,"y":-0.05,"c":"b"},{"x":6.4,"y":0.02,"c":"b"},{"x":7.3,"y":-0.16,"c":"b"},{"x":8.5,"y":0.23,"c":"b"},{"x":9.2,"y":-0.08,"c":"b"},{"x":10.6,"y":0.14,"c":"b"},{"x":11.3,"y":-0.25,"c":"b"},{"x":12.4,"y":0.05,"c":"b"},{"x":13.7,"y":0.17,"c":"b"},{"x":14.5,"y":-0.12,"c":"b"},{"x":15.3,"y":0.09,"c":"b"},{"x":16.6,"y":-0.03,"c":"b"},{"x":17.4,"y":0.2,"c":"b"},{"x":18.2,"y":-0.18,"c":"b"},{"x":19.5,"y":0.11,"c":"b"},{"x":20.3,"y":0.0,"c":"b"},{"x":21.6,"y":-0.14,"c":"b"},{"x":22.4,"y":0.26,"c":"b"},{"x":23.3,"y":-0.06,"c":"b"},{"x":24.6,"y":0.1,"c":"b"},{"x":25.4,"y":-0.21,"c":"b"},{"x":26.2,"y":0.15,"c":"b"},{"x":27.5,"y":0.04,"c":"b"},{"x":28.7,"y":-0.09,"c":"b"},{"x":29.4,"y":0.22,"c":"b"},{"x":30.3,"y":-0.17,"c":"b"},{"x":31.6,"y":0.08,"c":"b"},{"x":32.5,"y":0.13,"c":"b"},{"x":33.2,"y":-0.02,"c":"b"},{"x":34.4,"y":-0.23,"c":"b"},{"x":35.7,"y":0.18,"c":"b"},{"x":36.3,"y":0.06,"c":"b"},{"x":37.5,"y":-0.11,"c":"b"},{"x":38.4,"y":0.25,"c":"b"},{"x":39.6,"y":-0.04,"c":"b"},{"x":40.2,"y":0.16,"c":"b"},{"x":41.5,"y":-0.19,"c":"b"},{"x":42.3,"y":0.03,"c":"b"},{"x":43.6,"y":0.21,"c":"b"},{"x":44.4,"y":-0.07,"c":"b"},{"x":45.3,"y":0.12,"c":"b"},{"x":46.5,"y":-0.15,"c":"b"},{"x":47.2,"y":0.27,"c":"b"},{"x":48.6,"y":-0.1,"c":"b"},{"x":49.4,"y":0.07,"c":"b"},{"x":50.3,"y":0.19,"c":"b"},{"x":51.5,"y":-0.13,"c":"b"},{"x":52.2,"y":0.01,"c":"b"},{"x":53.6,"y":0.24,"c":"b"},{"x":54.4,"y":-0.2,"c":"b"},{"x":55.3,"y":0.1,"c":"b"},{"x":56.5,"y":-0.05,"c":"b"},{"x":57.4,"y":0.17,"c":"b"},{"x":58.2,"y":-0.16,"c":"b"},{"x":59.6,"y":0.14,"c":"b"},{"x":60.3,"y":0.02,"c":"b"},{"x":61.5,"y":-0.22,"c":"b"},{"x":62.4,"y":0.2,"c":"b"},{"x":63.2,"y":-0.08,"c":"b"},{"x":64.6,"y":0.11,"c":"b"},{"x":65.3,"y":-0.12,"c":"b"},{"x":66.5,"y":0.23,"c":"b"},{"x":67.4,"y":0.05,"c":"b"},{"x":68.3,"y":-0.18,"c":"b"},{"x":69.5,"y":0.15,"c":"b"},{"x":70.2,"y":-0.03,"c":"b"},{"x":71.6,"y":0.09,"c":"b"},{"x":72.4,"y":-0.24,"c":"b"},{"x":73.3,"y":0.18,"c":"b"},{"x":74.5,"y":0.0,"c":"b"},{"x":75.2,"y":-0.1,"c":"b"},{"x":76.6,"y":0.21,"c":"b"},{"x":77.4,"y":-0.06,"c":"b"},{"x":78.3,"y":0.13,"c":"b"},{"x":79.5,"y":-0.17,"c":"b"},{"x":80.2,"y":0.06,"c":"b"},{"x":81.4,"y":-0.14,"c":"b"},{"x":82.6,"y":0.26,"c":"b"},{"x":83.3,"y":-0.09,"c":"b"},{"x":84.5,"y":0.16,"c":"b"},{"x":85.2,"y":0.03,"c":"b"},{"x":86.4,"y":-0.21,"c":"b"},{"x":87.6,"y":0.12,"c":"b"},{"x":88.3,"y":-0.02,"c":"b"},{"x":89.5,"y":0.19,"c":"b"},{"x":90.4,"y":-0.13,"c":"b"},{"x":91.2,"y":0.08,"c":"b"},{"x":92.5,"y":0.22,"c":"b"},{"x":93.3,"y":-0.07,"c":"b"},{"x":94.6,"y":0.1,"c":"b"},{"x":95.4,"y":-0.19,"c":"b"},{"x":96.2,"y":0.14,"c":"b"},{"x":97.5,"y":0.04,"c":"b"},{"x":98.4,"y":-0.11,"c":"b"},{"x":99.3,"y":0.17,"c":"b"}],
"E_baf":[{"x":0,"y":0.995,"c":"b"},{"x":3.9,"y":0.99,"c":"b"},{"x":5.1,"y":0.995,"c":"b"},{"x":6.2,"y":0.99,"c":"b"},{"x":7.4,"y":0.995,"c":"b"},{"x":25.3,"y":0.99,"c":"r"},{"x":28.4,"y":0.985,"c":"r"},{"x":35.8,"y":0.99,"c":"r"},{"x":42.8,"y":0.99,"c":"r"},{"x":44.4,"y":0.985,"c":"r"},{"x":44.7,"y":0.99,"c":"r"},{"x":47.1,"y":0.99,"c":"r"},{"x":51,"y":0.995,"c":"r"},{"x":62.6,"y":0.99,"c":"r"},{"x":68.1,"y":0.985,"c":"r"},{"x":73.9,"y":0.995,"c":"r"},{"x":75.1,"y":0.99,"c":"r"},{"x":76.3,"y":0.995,"c":"r"},{"x":78.2,"y":0.99,"c":"r"},{"x":53.3,"y":0.94,"c":"r"},{"x":89.5,"y":0.98,"c":"b"},{"x":90.7,"y":0.995,"c":"b"},{"x":92.6,"y":0.99,"c":"b"},{"x":94.2,"y":0.995,"c":"b"},{"x":95.3,"y":0.99,"c":"b"},{"x":20.2,"y":0.67,"c":"r"},{"x":25.3,"y":0.624,"c":"r"},{"x":45.1,"y":0.647,"c":"r"},{"x":64.6,"y":0.642,"c":"r"},{"x":54.9,"y":0.595,"c":"r"},{"x":56.8,"y":0.601,"c":"r"},{"x":66.9,"y":0.595,"c":"r"},{"x":18.3,"y":0.561,"c":"r"},{"x":24.9,"y":0.52,"c":"r"},{"x":27.6,"y":0.532,"c":"r"},{"x":81.3,"y":0.682,"c":"r"},{"x":82.1,"y":0.636,"c":"r"},{"x":83.3,"y":0.653,"c":"r"},{"x":83.7,"y":0.624,"c":"r"},{"x":84,"y":0.59,"c":"r"},{"x":82.9,"y":0.607,"c":"r"},{"x":84.4,"y":0.642,"c":"r"},{"x":81.7,"y":0.63,"c":"r"},{"x":43.6,"y":0.335,"c":"r"},{"x":43.6,"y":0.289,"c":"r"},{"x":45.1,"y":0.231,"c":"r"},{"x":62.3,"y":0.318,"c":"r"},{"x":80.9,"y":0.3,"c":"r"},{"x":81.3,"y":0.324,"c":"r"},{"x":83.3,"y":0.324,"c":"r"},{"x":84,"y":0.329,"c":"r"},{"x":0,"y":0.474,"c":"b"},{"x":0.8,"y":0.451,"c":"b"},{"x":1.6,"y":0.457,"c":"b"},{"x":2.7,"y":0.462,"c":"b"},{"x":4.3,"y":0.486,"c":"b"},{"x":6.2,"y":0.445,"c":"b"},{"x":0.8,"y":0.41,"c":"b"},{"x":11.7,"y":0.503,"c":"b"},{"x":15.2,"y":0.451,"c":"b"},{"x":2.3,"y":0.48,"c":"b"},{"x":3.5,"y":0.451,"c":"b"},{"x":90.3,"y":0.532,"c":"b"},{"x":88.3,"y":0.503,"c":"b"},{"x":89.9,"y":0.486,"c":"b"},{"x":90.7,"y":0.462,"c":"b"},{"x":90.3,"y":0.422,"c":"b"},{"x":9.7,"y":0.127,"c":"b"},{"x":0.4,"y":0.01,"c":"b"},{"x":2.3,"y":0.015,"c":"b"},{"x":3.9,"y":0.01,"c":"b"},{"x":5.4,"y":0.015,"c":"b"},{"x":7,"y":0.01,"c":"b"},{"x":8.9,"y":0.015,"c":"b"},{"x":10.9,"y":0.01,"c":"b"},{"x":19.1,"y":0.01,"c":"r"},{"x":37.4,"y":0.01,"c":"r"},{"x":42.8,"y":0.02,"c":"r"},{"x":56.8,"y":0.01,"c":"r"},{"x":73.9,"y":0.015,"c":"r"},{"x":75.5,"y":0.01,"c":"r"},{"x":76.7,"y":0.015,"c":"r"},{"x":78.2,"y":0.01,"c":"r"},{"x":91.8,"y":0.025,"c":"b"},{"x":95.7,"y":0.01,"c":"b"},{"x":97.7,"y":0.015,"c":"b"}],
"E_lrr":[{"x":1.2,"y":0.39,"c":"b"},{"x":2.3,"y":0.16,"c":"b"},{"x":3.1,"y":0.05,"c":"b"},{"x":3.9,"y":0.28,"c":"b"},{"x":5.1,"y":-0.07,"c":"b"},{"x":6.2,"y":0.21,"c":"b"},{"x":7.8,"y":0.09,"c":"b"},{"x":9.3,"y":0.0,"c":"b"},{"x":10.9,"y":0.16,"c":"b"},{"x":12.5,"y":-0.05,"c":"b"},{"x":1.9,"y":1.06,"c":"b"},{"x":7.8,"y":0.74,"c":"b"},{"x":14.4,"y":-0.18,"c":"b"},{"x":18.3,"y":1.91,"c":"r"},{"x":17.9,"y":0.44,"c":"r"},{"x":19.5,"y":0.16,"c":"r"},{"x":22.6,"y":0.39,"c":"r"},{"x":24.5,"y":0.05,"c":"r"},{"x":26.5,"y":0.28,"c":"r"},{"x":28.4,"y":-0.07,"c":"r"},{"x":30.4,"y":0.21,"c":"r"},{"x":32.3,"y":0.44,"c":"r"},{"x":34.2,"y":0.05,"c":"r"},{"x":36.2,"y":0.32,"c":"r"},{"x":38.1,"y":-0.07,"c":"r"},{"x":40.1,"y":0.67,"c":"r"},{"x":42,"y":0.62,"c":"r"},{"x":43.2,"y":1.36,"c":"r"},{"x":44.4,"y":0.57,"c":"r"},{"x":45.9,"y":0.16,"c":"r"},{"x":47.9,"y":0.32,"c":"r"},{"x":49.8,"y":0.0,"c":"r"},{"x":51.8,"y":0.21,"c":"r"},{"x":53.7,"y":-0.07,"c":"r"},{"x":55.6,"y":0.39,"c":"r"},{"x":57.6,"y":0.11,"c":"r"},{"x":59.5,"y":0.25,"c":"r"},{"x":61.5,"y":-0.02,"c":"r"},{"x":63.4,"y":0.16,"c":"r"},{"x":65.4,"y":0.32,"c":"r"},{"x":67.3,"y":0.05,"c":"r"},{"x":69.3,"y":-0.07,"c":"r"},{"x":71.2,"y":0.21,"c":"r"},{"x":73.2,"y":0.57,"c":"r"},{"x":75.1,"y":0.39,"c":"r"},{"x":77,"y":0.16,"c":"r"},{"x":79,"y":0.28,"c":"r"},{"x":80.9,"y":0.05,"c":"r"},{"x":82.9,"y":0.21,"c":"r"},{"x":84.8,"y":-0.02,"c":"r"},{"x":86.8,"y":0.16,"c":"b"},{"x":88.7,"y":-0.07,"c":"b"},{"x":90.7,"y":0.05,"c":"b"},{"x":92.6,"y":-0.18,"c":"b"},{"x":94.6,"y":0.16,"c":"b"},{"x":96.5,"y":-0.07,"c":"b"},{"x":98.4,"y":0.05,"c":"b"},{"x":88.7,"y":-0.3,"c":"b"},{"x":93.8,"y":-0.41,"c":"b"}],
"F_baf":[{"x":1.2,"y":0.995,"c":"b"},{"x":3.1,"y":0.99,"c":"b"},{"x":5,"y":0.995,"c":"b"},{"x":6.9,"y":0.99,"c":"b"},{"x":8.9,"y":0.995,"c":"b"},{"x":10.8,"y":0.99,"c":"b"},{"x":12.7,"y":0.995,"c":"b"},{"x":14.7,"y":0.99,"c":"b"},{"x":16.6,"y":0.995,"c":"b"},{"x":19.3,"y":0.99,"c":"b"},{"x":23.2,"y":0.995,"c":"b"},{"x":25.1,"y":0.99,"c":"b"},{"x":27.4,"y":0.995,"c":"b"},{"x":29.7,"y":0.99,"c":"b"},{"x":32,"y":0.995,"c":"b"},{"x":34.4,"y":0.99,"c":"b"},{"x":57.9,"y":0.995,"c":"b"},{"x":59.8,"y":0.99,"c":"b"},{"x":62.2,"y":0.995,"c":"b"},{"x":64.5,"y":0.99,"c":"b"},{"x":66.8,"y":0.995,"c":"b"},{"x":69.1,"y":0.99,"c":"b"},{"x":71.8,"y":0.995,"c":"b"},{"x":74.5,"y":0.99,"c":"b"},{"x":76.4,"y":0.995,"c":"b"},{"x":79.2,"y":0.99,"c":"b"},{"x":81.5,"y":0.995,"c":"b"},{"x":83.8,"y":0.99,"c":"b"},{"x":86.1,"y":0.995,"c":"b"},{"x":88.4,"y":0.99,"c":"b"},{"x":90.7,"y":0.995,"c":"b"},{"x":93.1,"y":0.99,"c":"b"},{"x":95.4,"y":0.995,"c":"b"},{"x":97.7,"y":0.99,"c":"b"},{"x":99.2,"y":0.995,"c":"b"},{"x":71.4,"y":0.96,"c":"b"},{"x":37.1,"y":0.99,"c":"r"},{"x":39,"y":0.995,"c":"r"},{"x":40.5,"y":0.985,"c":"r"},{"x":42.1,"y":0.995,"c":"r"},{"x":43.6,"y":0.99,"c":"r"},{"x":45.6,"y":0.995,"c":"r"},{"x":51.4,"y":0.99,"c":"r"},{"x":53.3,"y":0.995,"c":"r"},{"x":40.5,"y":0.855,"c":"r"},{"x":39.4,"y":0.832,"c":"r"},{"x":47.5,"y":0.827,"c":"r"},{"x":52.1,"y":0.786,"c":"r"},{"x":56,"y":0.769,"c":"r"},{"x":38.6,"y":0.751,"c":"r"},{"x":39,"y":0.676,"c":"r"},{"x":50.6,"y":0.67,"c":"r"},{"x":4.6,"y":0.578,"c":"b"},{"x":4.6,"y":0.514,"c":"b"},{"x":30.5,"y":0.509,"c":"b"},{"x":31.3,"y":0.497,"c":"b"},{"x":88,"y":0.52,"c":"b"},{"x":89.6,"y":0.532,"c":"b"},{"x":91.1,"y":0.543,"c":"b"},{"x":90,"y":0.503,"c":"b"},{"x":91.1,"y":0.474,"c":"b"},{"x":88.8,"y":0.491,"c":"b"},{"x":94.6,"y":0.497,"c":"b"},{"x":95.8,"y":0.468,"c":"b"},{"x":96.5,"y":0.48,"c":"b"},{"x":97.3,"y":0.445,"c":"b"},{"x":94.6,"y":0.451,"c":"b"},{"x":98.1,"y":0.561,"c":"b"},{"x":95,"y":0.405,"c":"b"},{"x":37.8,"y":0.168,"c":"r"},{"x":41.3,"y":0.168,"c":"r"},{"x":44.8,"y":0.191,"c":"r"},{"x":48.3,"y":0.168,"c":"r"},{"x":48.6,"y":0.185,"c":"r"},{"x":52.1,"y":0.191,"c":"r"},{"x":54.1,"y":0.179,"c":"r"},{"x":56.8,"y":0.173,"c":"r"},{"x":48.6,"y":0.15,"c":"r"},{"x":1.2,"y":0.01,"c":"b"},{"x":6.2,"y":0.015,"c":"b"},{"x":7.7,"y":0.01,"c":"b"},{"x":8.9,"y":0.02,"c":"b"},{"x":10.4,"y":0.01,"c":"b"},{"x":12,"y":0.015,"c":"b"},{"x":13.5,"y":0.01,"c":"b"},{"x":15.1,"y":0.02,"c":"b"},{"x":18.5,"y":0.01,"c":"b"},{"x":21.2,"y":0.015,"c":"b"},{"x":24.3,"y":0.01,"c":"b"},{"x":30.1,"y":0.01,"c":"b"},{"x":59.1,"y":0.015,"c":"b"},{"x":61,"y":0.01,"c":"b"},{"x":62.9,"y":0.015,"c":"b"},{"x":64.9,"y":0.01,"c":"b"},{"x":66.8,"y":0.015,"c":"b"},{"x":73.7,"y":0.025,"c":"b"},{"x":83.4,"y":0.01,"c":"b"},{"x":85.3,"y":0.015,"c":"b"},{"x":88,"y":0.01,"c":"b"},{"x":92.3,"y":0.015,"c":"b"},{"x":94.6,"y":0.01,"c":"b"},{"x":96.9,"y":0.015,"c":"b"},{"x":37.8,"y":0.03,"c":"r"},{"x":47.5,"y":0.01,"c":"r"},{"x":49,"y":0.015,"c":"r"},{"x":50.6,"y":0.01,"c":"r"},{"x":52.1,"y":0.015,"c":"r"}],
"F_lrr":[{"x":0.8,"y":0.21,"c":"b"},{"x":5.8,"y":0.39,"c":"b"},{"x":2.3,"y":-0.07,"c":"b"},{"x":3.9,"y":-0.11,"c":"b"},{"x":5,"y":-0.02,"c":"b"},{"x":5.8,"y":-0.14,"c":"b"},{"x":6.9,"y":-0.07,"c":"b"},{"x":8.1,"y":-0.05,"c":"b"},{"x":8.9,"y":-0.14,"c":"b"},{"x":10,"y":-0.09,"c":"b"},{"x":11.2,"y":0.0,"c":"b"},{"x":12,"y":-0.11,"c":"b"},{"x":12.7,"y":-0.05,"c":"b"},{"x":13.5,"y":0.05,"c":"b"},{"x":14.7,"y":-0.07,"c":"b"},{"x":15.8,"y":0.0,"c":"b"},{"x":16.6,"y":0.09,"c":"b"},{"x":17.8,"y":-0.11,"c":"b"},{"x":18.5,"y":0.0,"c":"b"},{"x":20.5,"y":0.16,"c":"b"},{"x":21.6,"y":0.21,"c":"b"},{"x":22.4,"y":0.28,"c":"b"},{"x":23.6,"y":0.09,"c":"b"},{"x":24.3,"y":0.21,"c":"b"},{"x":25.1,"y":0.25,"c":"b"},{"x":25.9,"y":0.0,"c":"b"},{"x":26.6,"y":-0.07,"c":"b"},{"x":27.4,"y":0.05,"c":"b"},{"x":28.2,"y":0.16,"c":"b"},{"x":29.3,"y":-0.14,"c":"b"},{"x":30.9,"y":-0.02,"c":"b"},{"x":32,"y":0.07,"c":"b"},{"x":33.2,"y":-0.02,"c":"b"},{"x":23.2,"y":0.57,"c":"b"},{"x":23.2,"y":-0.23,"c":"b"},{"x":6.9,"y":-0.25,"c":"b"},{"x":16.6,"y":-0.23,"c":"b"},{"x":42.9,"y":1.26,"c":"r"},{"x":44.8,"y":1.29,"c":"r"},{"x":41.3,"y":0.83,"c":"r"},{"x":42.1,"y":0.83,"c":"r"},{"x":37.1,"y":0.57,"c":"r"},{"x":38.2,"y":0.44,"c":"r"},{"x":39,"y":0.21,"c":"r"},{"x":42.5,"y":0.25,"c":"r"},{"x":44,"y":0.41,"c":"r"},{"x":44,"y":0.62,"c":"r"},{"x":46,"y":0.74,"c":"r"},{"x":47.5,"y":0.92,"c":"r"},{"x":47.9,"y":0.83,"c":"r"},{"x":49.4,"y":0.69,"c":"r"},{"x":48.6,"y":0.39,"c":"r"},{"x":50.2,"y":0.25,"c":"r"},{"x":52.1,"y":0.55,"c":"r"},{"x":52.1,"y":0.74,"c":"r"},{"x":52.5,"y":0.92,"c":"r"},{"x":53.7,"y":1.15,"c":"r"},{"x":54.8,"y":0.9,"c":"r"},{"x":55.2,"y":0.74,"c":"r"},{"x":56.4,"y":0.85,"c":"r"},{"x":56,"y":0.32,"c":"r"},{"x":37.8,"y":-1.56,"c":"r"},{"x":46.7,"y":0.9,"c":"r"},{"x":57.9,"y":0.11,"c":"b"},{"x":59.1,"y":-0.07,"c":"b"},{"x":59.8,"y":-0.14,"c":"b"},{"x":61,"y":0.05,"c":"b"},{"x":62.2,"y":-0.07,"c":"b"},{"x":62.9,"y":-0.21,"c":"b"},{"x":64.1,"y":0.0,"c":"b"},{"x":64.9,"y":-0.14,"c":"b"},{"x":66,"y":-0.07,"c":"b"},{"x":66.8,"y":0.09,"c":"b"},{"x":68,"y":-0.07,"c":"b"},{"x":69.5,"y":-0.18,"c":"b"},{"x":70.7,"y":-0.07,"c":"b"},{"x":72.6,"y":0.0,"c":"b"},{"x":73,"y":-0.3,"c":"b"},{"x":66.8,"y":0.39,"c":"b"},{"x":66,"y":0.28,"c":"b"},{"x":73.7,"y":-0.23,"c":"b"},{"x":73.7,"y":-0.39,"c":"b"},{"x":73,"y":-0.14,"c":"b"},{"x":76.4,"y":-0.07,"c":"b"},{"x":80.3,"y":0.02,"c":"b"},{"x":82.2,"y":0.09,"c":"b"},{"x":83,"y":0.23,"c":"b"},{"x":84.2,"y":-0.07,"c":"b"},{"x":86.1,"y":-0.02,"c":"b"},{"x":87.3,"y":0.0,"c":"b"},{"x":88,"y":0.11,"c":"b"},{"x":89.2,"y":-0.07,"c":"b"},{"x":90.3,"y":-0.16,"c":"b"},{"x":91.1,"y":0.0,"c":"b"},{"x":91.9,"y":0.44,"c":"b"},{"x":93.1,"y":0.16,"c":"b"},{"x":94.6,"y":-0.07,"c":"b"},{"x":95.4,"y":0.09,"c":"b"},{"x":96.1,"y":0.21,"c":"b"},{"x":96.9,"y":0.0,"c":"b"},{"x":97.7,"y":-0.11,"c":"b"},{"x":98.5,"y":-0.18,"c":"b"},{"x":99.2,"y":0.05,"c":"b"},{"x":100,"y":0.16,"c":"b"},{"x":63.7,"y":0.16,"c":"b"},{"x":69.5,"y":0.21,"c":"b"},{"x":77.6,"y":0.09,"c":"b"},{"x":79.2,"y":-0.11,"c":"b"},{"x":85.3,"y":-0.18,"c":"b"},{"x":93.8,"y":-0.18,"c":"b"},{"x":88,"y":0.28,"c":"b"},{"x":97.7,"y":0.32,"c":"b"}]
},
"columns":6,
"spacing":0,
"bounds":"flush",
"align":"each",
"concat":[
 {"width":67,"height":15,"data":{"values":[{}]},"mark":{"type":"text","align":"left","baseline":"alphabetic","font":"Liberation Serif","fontSize":31.8,"color":"#000","text":"es of CNV observance based on B-allele frequency (BAF) and Log R Ratio ("},"encoding":{"x":{"datum":0,"type":"quantitative","scale":{"domain":[0,1]},"axis":null},"y":{"datum":0.17,"type":"quantitative","scale":{"domain":[0,1]},"axis":null}}},
 {"width":267,"height":1,"data":{"values":[]},"mark":"point"},
 {"width":18,"height":1,"data":{"values":[]},"mark":"point"},
 {"width":257,"height":1,"data":{"values":[]},"mark":"point"},
 {"width":8,"height":1,"data":{"values":[]},"mark":"point"},
 {"width":259,"height":1,"data":{"values":[]},"mark":"point"},

 {"width":67,"height":1,"data":{"values":[]},"mark":"point"},
 {"width":267,"height":173,"view":{"stroke":null},"layer":[
  {"data":{"values":[{}]},"mark":{"type":"tick","orient":"horizontal","size":190,"thickness":2.5,"color":"#8c8c8c","opacity":1},"encoding":{"x":{"datum":50,"type":"quantitative","scale":{"domain":[0,100],"range":[36,226],"nice":false,"zero":false},"axis":null},"y":{"datum":0,"type":"quantitative"}}},
  {"data":{"name":"A_baf"},"mark":{"type":"point","shape":"square","filled":false,"size":11,"strokeWidth":1,"opacity":1},"encoding":{"x":{"field":"x","type":"quantitative","axis":null},"y":{"field":"y","type":"quantitative","scale":{"domain":[0,1],"nice":false,"zero":false},"axis":{"orient":"right","offset":-41,"values":[0,0.2,0.4,0.6,0.8,1],"format":".1f","grid":true,"labels":true,"labelOverlap":false,"labelSeparation":-15,"labelAlign":"left","labelPadding":12,"title":null}},"color":{"field":"c","type":"nominal","scale":{"domain":["b","r"],"range":["#4848b0","#e55050"]},"legend":null}}},
  {"data":{"values":[{}]},"mark":{"type":"text","text":["B Allele","Frequency"],"font":"Liberation Serif","fontSize":26,"lineHeight":29,"align":"left","baseline":"middle","color":"#000"},"encoding":{"x":{"datum":-49,"type":"quantitative","axis":null},"y":{"datum":0.538,"type":"quantitative"}}}
 ]},
 {"width":18,"height":1,"data":{"values":[]},"mark":"point"},
 {"width":257,"height":173,"view":{"fill":"#fbfbf9","stroke":null},"layer":[
  {"data":{"values":[{}]},"mark":{"type":"rule","color":"#606060","strokeWidth":1.5},"encoding":{"y":{"datum":1,"type":"quantitative"}}},
  {"data":{"values":[{}]},"mark":{"type":"rule","color":"#8c8c8c","strokeWidth":2.5},"encoding":{"y":{"datum":0,"type":"quantitative"}}},
  {"data":{"name":"B_baf"},"mark":{"type":"point","shape":"square","filled":false,"size":26,"strokeWidth":1,"opacity":1},"encoding":{"x":{"field":"x","type":"quantitative","scale":{"domain":[0,100],"nice":false,"zero":false},"axis":null},"y":{"field":"y","type":"quantitative","scale":{"domain":[0,1],"nice":false,"zero":false},"axis":{"orient":"right","values":[0,0.2,0.4,0.6,0.8,1],"grid":true,"labels":false,"title":null}},"color":{"field":"c","type":"nominal","scale":{"domain":["b","r"],"range":["#3c3c9e","#e0453f"]},"legend":null}}},
  {"data":{"values":[{}]},"mark":{"type":"text","text":"GT Samples / C2N083 [404]","font":"Liberation Sans","fontSize":6.5,"fontWeight":"bold","align":"center","baseline":"middle","color":"#333"},"encoding":{"x":{"datum":60,"type":"quantitative","axis":null},"y":{"datum":-0.035,"type":"quantitative"}}}
 ]},
 {"width":8,"height":1,"data":{"values":[]},"mark":"point"},
 {"width":259,"height":173,"view":{"fill":"#fbfbf9","stroke":null},"layer":[
  {"data":{"values":[{}]},"mark":{"type":"rule","color":"#606060","strokeWidth":1.5},"encoding":{"y":{"datum":1,"type":"quantitative"}}},
  {"data":{"values":[{}]},"mark":{"type":"rule","color":"#8c8c8c","strokeWidth":2.5},"encoding":{"y":{"datum":0,"type":"quantitative"}}},
  {"data":{"name":"C_baf"},"mark":{"type":"point","shape":"square","filled":false,"size":26,"strokeWidth":1,"opacity":1},"encoding":{"x":{"field":"x","type":"quantitative","scale":{"domain":[0,100],"nice":false,"zero":false},"axis":null},"y":{"field":"y","type":"quantitative","scale":{"domain":[0,1],"nice":false,"zero":false},"axis":{"orient":"right","values":[0,0.2,0.4,0.6,0.8,1],"format":".1f","grid":true,"labels":true,"labelOverlap":false,"labelSeparation":-15,"labelAlign":"left","labelPadding":11,"title":"BAF","titleAngle":0,"titleAlign":"left","titleBaseline":"middle","titleX":52,"titleY":83}},"color":{"field":"c","type":"nominal","scale":{"domain":["b","r"],"range":["#3c3c9e","#e0453f"]},"legend":null}}},
  {"data":{"values":[{}]},"mark":{"type":"text","text":"GT Samples / 200609865_3689 [776]","font":"Liberation Sans","fontSize":6.5,"fontWeight":"bold","align":"center","baseline":"middle","color":"#333"},"encoding":{"x":{"datum":31,"type":"quantitative","axis":null},"y":{"datum":-0.035,"type":"quantitative"}}}
 ]},

 {"width":1,"height":10,"data":{"values":[]},"mark":"point"},
 {"width":1,"height":10,"data":{"values":[]},"mark":"point"},
 {"width":1,"height":10,"data":{"values":[]},"mark":"point"},
 {"width":1,"height":10,"data":{"values":[]},"mark":"point"},
 {"width":1,"height":10,"data":{"values":[]},"mark":"point"},
 {"width":1,"height":10,"data":{"values":[]},"mark":"point"},

 {"width":67,"height":1,"data":{"values":[]},"mark":"point"},
 {"width":267,"height":175,"view":{"stroke":null},"layer":[
  {"data":{"values":[{}]},"mark":{"type":"tick","orient":"horizontal","size":190,"thickness":2.5,"color":"#8c8c8c","opacity":1},"encoding":{"x":{"datum":50,"type":"quantitative","scale":{"domain":[0,100],"range":[36,226],"nice":false,"zero":false},"axis":null},"y":{"datum":2,"type":"quantitative"}}},
  {"data":{"values":[{}]},"mark":{"type":"tick","orient":"horizontal","size":190,"thickness":2,"color":"#707070","opacity":1},"encoding":{"x":{"datum":50,"type":"quantitative","axis":null},"y":{"datum":-4,"type":"quantitative"}}},
  {"data":{"name":"A_lrr"},"mark":{"type":"point","shape":"square","filled":false,"size":11,"strokeWidth":1,"opacity":1},"encoding":{"x":{"field":"x","type":"quantitative","axis":null},"y":{"field":"y","type":"quantitative","scale":{"domain":[-4,2],"nice":false,"zero":false},"axis":{"orient":"right","offset":-41,"values":[-4,-3,-2,-1,0,1,2],"grid":true,"labels":true,"labelOverlap":false,"labelSeparation":-15,"labelAlign":"left","labelPadding":12,"labelExpr":"replace(datum.label, '−', '-')","title":null}},"color":{"field":"c","type":"nominal","scale":{"domain":["b","r"],"range":["#4848b0","#e55050"]},"legend":null}}},
  {"data":{"values":[{}]},"mark":{"type":"text","text":"Homozygous Deletion","font":"Liberation Sans","fontSize":27,"align":"center","baseline":"middle","color":"#000"},"encoding":{"x":{"datum":31,"type":"quantitative","axis":null},"y":{"datum":1.41,"type":"quantitative"}}},
  {"data":{"values":[{}]},"mark":{"type":"text","text":["Log R","Ratio"],"font":"Liberation Serif","fontSize":26,"lineHeight":25,"align":"left","baseline":"middle","color":"#000"},"encoding":{"x":{"datum":-34.7,"type":"quantitative","axis":null},"y":{"datum":-0.76,"type":"quantitative"}}}
 ]},
 {"width":18,"height":1,"data":{"values":[]},"mark":"point"},
 {"width":257,"height":175,"view":{"fill":"#fbfbf9","stroke":null},"layer":[
  {"data":{"values":[{}]},"mark":{"type":"rule","color":"#8c8c8c","strokeWidth":2.5},"encoding":{"y":{"datum":2,"type":"quantitative"}}},
  {"data":{"values":[{}]},"mark":{"type":"rule","color":"#707070","strokeWidth":2},"encoding":{"y":{"datum":-2,"type":"quantitative"}}},
  {"data":{"name":"B_lrr"},"mark":{"type":"point","shape":"square","filled":false,"size":26,"strokeWidth":1,"opacity":1},"encoding":{"x":{"field":"x","type":"quantitative","scale":{"domain":[0,100],"nice":false,"zero":false},"axis":null},"y":{"field":"y","type":"quantitative","scale":{"domain":[-2,2],"nice":false,"zero":false},"axis":{"orient":"right","values":[-2,-1,0,1,2],"grid":true,"labels":false,"title":null}},"color":{"field":"c","type":"nominal","scale":{"domain":["b","r"],"range":["#3c3c9e","#e0453f"]},"legend":null}}},
  {"data":{"values":[{}]},"mark":{"type":"text","text":"Deletion","font":"Liberation Sans","fontSize":27,"align":"center","baseline":"middle","color":"#000"},"encoding":{"x":{"datum":60,"type":"quantitative","axis":null},"y":{"datum":1.61,"type":"quantitative"}}}
 ]},
 {"width":8,"height":1,"data":{"values":[]},"mark":"point"},
 {"width":259,"height":175,"view":{"fill":"#fbfbf9","stroke":null},"layer":[
  {"data":{"values":[{}]},"mark":{"type":"rule","color":"#8c8c8c","strokeWidth":2.5},"encoding":{"y":{"datum":2,"type":"quantitative"}}},
  {"data":{"values":[{}]},"mark":{"type":"rule","color":"#707070","strokeWidth":2},"encoding":{"y":{"datum":-2,"type":"quantitative"}}},
  {"data":{"name":"C_lrr"},"mark":{"type":"point","shape":"square","filled":false,"size":26,"strokeWidth":1,"opacity":1},"encoding":{"x":{"field":"x","type":"quantitative","scale":{"domain":[0,100],"nice":false,"zero":false},"axis":null},"y":{"field":"y","type":"quantitative","scale":{"domain":[-2,2],"nice":false,"zero":false},"axis":{"orient":"right","values":[-2,-1,0,1,2],"grid":true,"labels":true,"labelOverlap":false,"labelSeparation":-15,"labelAlign":"right","labelPadding":26,"labelExpr":"replace(datum.label, '−', '-')","title":"LRR","titleAngle":0,"titleAlign":"left","titleBaseline":"middle","titleX":52,"titleY":92}},"color":{"field":"c","type":"nominal","scale":{"domain":["b","r"],"range":["#3c3c9e","#e0453f"]},"legend":null}}},
  {"data":{"values":[{}]},"mark":{"type":"text","text":"ROH (Copy Neutral)","font":"Liberation Sans","fontSize":27,"align":"center","baseline":"middle","color":"#000"},"encoding":{"x":{"datum":56,"type":"quantitative","axis":null},"y":{"datum":1.61,"type":"quantitative"}}}
 ]},

 {"width":1,"height":53,"data":{"values":[]},"mark":"point"},
 {"width":1,"height":53,"data":{"values":[]},"mark":"point"},
 {"width":1,"height":53,"data":{"values":[]},"mark":"point"},
 {"width":1,"height":53,"data":{"values":[]},"mark":"point"},
 {"width":1,"height":53,"data":{"values":[]},"mark":"point"},
 {"width":1,"height":53,"data":{"values":[]},"mark":"point"},

 {"width":67,"height":1,"data":{"values":[]},"mark":"point"},
 {"width":267,"height":173,"view":{"fill":"#fbfbf9","stroke":null},"layer":[
  {"data":{"values":[{}]},"mark":{"type":"rule","color":"#50508a","strokeWidth":1.5},"encoding":{"y":{"datum":1,"type":"quantitative"}}},
  {"data":{"values":[{}]},"mark":{"type":"rule","color":"#8c8c8c","strokeWidth":2.5},"encoding":{"y":{"datum":0,"type":"quantitative"}}},
  {"data":{"name":"D_baf"},"mark":{"type":"point","shape":"square","filled":false,"size":26,"strokeWidth":1,"opacity":1},"encoding":{"x":{"field":"x","type":"quantitative","scale":{"domain":[0,100],"nice":false,"zero":false},"axis":null},"y":{"field":"y","type":"quantitative","scale":{"domain":[0,1],"nice":false,"zero":false},"axis":{"orient":"right","values":[0,0.2,0.4,0.6,0.8,1],"grid":true,"labels":false,"title":null}},"color":{"field":"c","type":"nominal","scale":{"domain":["b","r"],"range":["#3c3c9e","#e0453f"]},"legend":null}}},
  {"data":{"values":[{}]},"mark":{"type":"text","text":"GT Samples / 987102A [1]","font":"Liberation Sans","fontSize":6.5,"fontWeight":"bold","align":"center","baseline":"middle","color":"#333"},"encoding":{"x":{"datum":53,"type":"quantitative","axis":null},"y":{"datum":-0.035,"type":"quantitative"}}}
 ]},
 {"width":18,"height":1,"data":{"values":[]},"mark":"point"},
 {"width":257,"height":173,"view":{"fill":"#fbfbf9","stroke":null},"layer":[
  {"data":{"values":[{}]},"mark":{"type":"rule","color":"#606060","strokeWidth":1.5},"encoding":{"y":{"datum":1,"type":"quantitative"}}},
  {"data":{"values":[{}]},"mark":{"type":"rule","color":"#8c8c8c","strokeWidth":2.5},"encoding":{"y":{"datum":0,"type":"quantitative"}}},
  {"data":{"name":"E_baf"},"mark":{"type":"point","shape":"square","filled":false,"size":26,"strokeWidth":1,"opacity":1},"encoding":{"x":{"field":"x","type":"quantitative","scale":{"domain":[0,100],"nice":false,"zero":false},"axis":null},"y":{"field":"y","type":"quantitative","scale":{"domain":[0,1],"nice":false,"zero":false},"axis":{"orient":"right","values":[0,0.2,0.4,0.6,0.8,1],"grid":true,"labels":false,"title":null}},"color":{"field":"c","type":"nominal","scale":{"domain":["b","r"],"range":["#3c3c9e","#e0453f"]},"legend":null}}},
  {"data":{"values":[{}]},"mark":{"type":"text","text":"GT Samples / AU007008 [1]","font":"Liberation Sans","fontSize":6.5,"fontWeight":"bold","align":"center","baseline":"middle","color":"#333"},"encoding":{"x":{"datum":50,"type":"quantitative","axis":null},"y":{"datum":-0.035,"type":"quantitative"}}}
 ]},
 {"width":8,"height":1,"data":{"values":[]},"mark":"point"},
 {"width":259,"height":173,"view":{"fill":"#fbfbf9","stroke":null},"layer":[
  {"data":{"values":[{}]},"mark":{"type":"rule","color":"#606060","strokeWidth":1.5},"encoding":{"y":{"datum":1,"type":"quantitative"}}},
  {"data":{"values":[{}]},"mark":{"type":"rule","color":"#8c8c8c","strokeWidth":2.5},"encoding":{"y":{"datum":0,"type":"quantitative"}}},
  {"data":{"name":"F_baf"},"mark":{"type":"point","shape":"square","filled":false,"size":26,"strokeWidth":1,"opacity":1},"encoding":{"x":{"field":"x","type":"quantitative","scale":{"domain":[0,100],"nice":false,"zero":false},"axis":null},"y":{"field":"y","type":"quantitative","scale":{"domain":[0,1],"nice":false,"zero":false},"axis":{"orient":"right","values":[0,0.2,0.4,0.6,0.8,1],"format":".1f","grid":true,"labels":true,"labelOverlap":false,"labelSeparation":-15,"labelAlign":"left","labelPadding":11,"title":"BAF","titleAngle":0,"titleAlign":"left","titleBaseline":"middle","titleX":52,"titleY":74}},"color":{"field":"c","type":"nominal","scale":{"domain":["b","r"],"range":["#3c3c9e","#e0453f"]},"legend":null}}},
  {"data":{"values":[{}]},"mark":{"type":"text","text":"GT Samples / AU047704 [17]","font":"Liberation Sans","fontSize":6.5,"fontWeight":"bold","align":"center","baseline":"middle","color":"#333"},"encoding":{"x":{"datum":50.6,"type":"quantitative","axis":null},"y":{"datum":-0.035,"type":"quantitative"}}}
 ]},

 {"width":1,"height":11,"data":{"values":[]},"mark":"point"},
 {"width":1,"height":11,"data":{"values":[]},"mark":"point"},
 {"width":1,"height":11,"data":{"values":[]},"mark":"point"},
 {"width":1,"height":11,"data":{"values":[]},"mark":"point"},
 {"width":1,"height":11,"data":{"values":[]},"mark":"point"},
 {"width":1,"height":11,"data":{"values":[]},"mark":"point"},

 {"width":67,"height":1,"data":{"values":[]},"mark":"point"},
 {"width":267,"height":174,"view":{"fill":"#fbfbf9","stroke":null},"layer":[
  {"data":{"values":[{}]},"mark":{"type":"rule","color":"#8c8c8c","strokeWidth":2.5},"encoding":{"y":{"datum":2,"type":"quantitative"}}},
  {"data":{"name":"D_lrr"},"mark":{"type":"point","shape":"square","filled":false,"size":26,"strokeWidth":1,"opacity":1},"encoding":{"x":{"field":"x","type":"quantitative","scale":{"domain":[0,100],"nice":false,"zero":false},"axis":null},"y":{"field":"y","type":"quantitative","scale":{"domain":[-2,2],"nice":false,"zero":false},"axis":{"orient":"right","values":[-2,-1,0,1,2],"grid":true,"labels":false,"title":null}},"color":{"field":"c","type":"nominal","scale":{"domain":["b","r"],"range":["#3c3c9e","#e0453f"]},"legend":null}}},
  {"data":{"values":[{}]},"mark":{"type":"text","text":"Normal Diploid","font":"Liberation Sans","fontSize":27,"align":"center","baseline":"middle","color":"#000"},"encoding":{"x":{"datum":51,"type":"quantitative","axis":null},"y":{"datum":-1.1,"type":"quantitative"}}}
 ]},
 {"width":18,"height":1,"data":{"values":[]},"mark":"point"},
 {"width":257,"height":174,"view":{"fill":"#fbfbf9","stroke":null},"layer":[
  {"data":{"values":[{}]},"mark":{"type":"rule","color":"#8c8c8c","strokeWidth":2.5},"encoding":{"y":{"datum":2,"type":"quantitative"}}},
  {"data":{"name":"E_lrr"},"mark":{"type":"point","shape":"square","filled":false,"size":26,"strokeWidth":1,"opacity":1},"encoding":{"x":{"field":"x","type":"quantitative","scale":{"domain":[0,100],"nice":false,"zero":false},"axis":null},"y":{"field":"y","type":"quantitative","scale":{"domain":[-2,2],"nice":false,"zero":false},"axis":{"orient":"right","values":[-2,-1,0,1,2],"grid":true,"labels":false,"title":null}},"color":{"field":"c","type":"nominal","scale":{"domain":["b","r"],"range":["#3c3c9e","#e0453f"]},"legend":null}}},
  {"data":{"values":[{}]},"mark":{"type":"text","text":"Duplication","font":"Liberation Sans","fontSize":27,"align":"center","baseline":"middle","color":"#000"},"encoding":{"x":{"datum":54.5,"type":"quantitative","axis":null},"y":{"datum":-1.1,"type":"quantitative"}}}
 ]},
 {"width":8,"height":1,"data":{"values":[]},"mark":"point"},
 {"width":259,"height":174,"view":{"fill":"#fbfbf9","stroke":null},"layer":[
  {"data":{"values":[{}]},"mark":{"type":"rule","color":"#8c8c8c","strokeWidth":2.5},"encoding":{"y":{"datum":2,"type":"quantitative"}}},
  {"data":{"name":"F_lrr"},"mark":{"type":"point","shape":"square","filled":false,"size":26,"strokeWidth":1,"opacity":1},"encoding":{"x":{"field":"x","type":"quantitative","scale":{"domain":[0,100],"nice":false,"zero":false},"axis":null},"y":{"field":"y","type":"quantitative","scale":{"domain":[-2,2],"nice":false,"zero":false},"axis":{"orient":"right","values":[-2,-1,0,1,2],"grid":true,"labels":true,"labelOverlap":false,"labelSeparation":-15,"labelAlign":"right","labelPadding":26,"labelExpr":"replace(datum.label, '−', '-')","title":"LRR","titleAngle":0,"titleAlign":"left","titleBaseline":"middle","titleX":52,"titleY":87}},"color":{"field":"c","type":"nominal","scale":{"domain":["b","r"],"range":["#3c3c9e","#e0453f"]},"legend":null}}},
  {"data":{"values":[{}]},"mark":{"type":"text","text":"Double Duplication","font":"Liberation Sans","fontSize":27,"align":"center","baseline":"middle","color":"#000"},"encoding":{"x":{"datum":51,"type":"quantitative","axis":null},"y":{"datum":-1.1,"type":"quantitative"}}}
 ]}
]
}
